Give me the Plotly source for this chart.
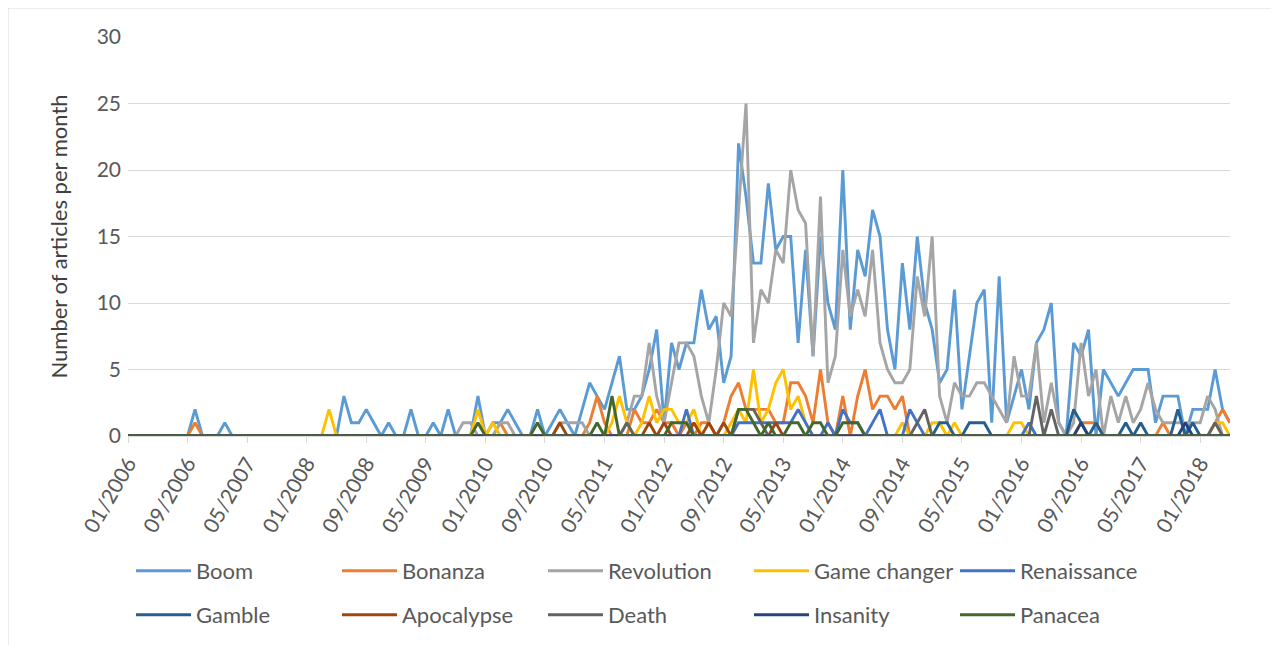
import plotly.graph_objects as go

# ---- categories (monthly, 01/2006 .. 05/2018) ----
months = []
for yr in range(2006, 2019):
    for mo in range(1, 13):
        if yr == 2018 and mo > 5:
            break
        months.append(f"{mo:02d}/{yr}")
tick_labels = months[::8]

# ---- series values (one row per year) ----
boom = [
    0,0,0,0,0,0,0,0,0,2,0,0,
    0,1,0,0,0,0,0,0,0,0,0,0,
    0,0,0,0,0,3,1,1,2,1,0,1,
    0,0,2,0,0,1,0,2,0,0,0,3,
    0,1,1,2,1,0,0,2,0,1,2,1,
    0,2,4,3,2,4,6,2,2,3,5,8,
    1,7,5,7,7,11,8,9,4,6,22,18,
    13,13,19,14,15,15,7,14,6,15,10,8,
    20,8,14,12,17,15,8,5,13,8,15,10,
    8,4,5,11,2,6,10,11,1,12,1,3,
    5,2,7,8,10,1,0,7,6,8,0,5,
    4,3,4,5,5,5,1,3,3,3,0,2,
    2,2,5,2,1]
bonanza = [
    0,0,0,0,0,0,0,0,0,1,0,0,
    0,0,0,0,0,0,0,0,0,0,0,0,
    0,0,0,0,0,0,0,0,0,0,0,0,
    0,0,0,0,0,0,0,0,0,0,0,0,
    0,0,1,0,0,0,0,0,0,0,0,0,
    0,0,1,3,1,0,0,0,2,1,1,2,
    1,1,0,1,0,1,1,0,1,3,4,2,
    2,2,2,1,1,4,4,3,1,5,1,0,
    3,0,3,5,2,3,3,2,3,0,0,0,
    0,0,0,0,0,0,0,0,0,0,0,0,
    0,0,0,0,0,0,0,0,1,1,1,0,
    0,0,0,0,0,0,0,1,0,0,0,0,
    0,0,1,2,1]
revolution = [
    0,0,0,0,0,0,0,0,0,0,0,0,
    0,0,0,0,0,0,0,0,0,0,0,0,
    0,0,0,0,0,0,0,0,0,0,0,0,
    0,0,0,0,0,0,0,0,0,1,1,0,
    0,0,1,1,0,0,0,0,0,0,1,1,
    1,1,0,0,0,0,0,1,3,3,7,3,
    1,4,7,7,6,3,1,5,10,9,17,25,
    7,11,10,14,13,20,17,16,6,18,4,6,
    14,9,11,9,14,7,5,4,4,5,12,9,
    15,3,1,4,3,3,4,4,3,2,1,6,
    3,3,7,1,4,1,0,1,7,3,5,0,
    3,1,3,1,2,4,2,1,1,1,1,1,
    1,3,2,0,0]
game_changer = [
    0,0,0,0,0,0,0,0,0,0,0,0,
    0,0,0,0,0,0,0,0,0,0,0,0,
    0,0,0,2,0,0,0,0,0,0,0,0,
    0,0,0,0,0,0,0,0,0,0,0,2,
    0,1,0,0,0,0,0,0,0,0,0,0,
    0,0,0,0,0,1,3,1,0,1,3,1,
    2,2,1,1,2,0,0,0,0,1,2,1,
    5,1,2,4,5,2,3,1,0,0,0,0,
    0,0,0,0,0,0,0,0,1,0,0,0,
    1,1,0,1,0,0,0,0,0,0,0,1,
    1,0,0,0,0,0,0,0,0,0,0,0,
    0,0,0,0,0,0,0,0,0,0,0,0,
    0,0,1,1,0]
renaissance = [
    0,0,0,0,0,0,0,0,0,0,0,0,
    0,0,0,0,0,0,0,0,0,0,0,0,
    0,0,0,0,0,0,0,0,0,0,0,0,
    0,0,0,0,0,0,0,0,0,0,0,0,
    0,0,0,0,0,0,0,0,0,0,0,0,
    0,0,0,0,0,0,0,0,0,0,0,0,
    0,0,0,2,0,0,0,0,0,0,1,1,
    1,1,1,1,1,1,2,1,0,0,1,0,
    2,1,1,0,1,2,0,0,0,2,1,0,
    0,0,0,0,0,0,0,0,0,0,0,0,
    0,1,0,0,0,0,0,0,0,0,0,0,
    0,0,0,0,0,0,0,0,0,0,0,0,
    0,0,0,0,0]
gamble = [
    0,0,0,0,0,0,0,0,0,0,0,0,
    0,0,0,0,0,0,0,0,0,0,0,0,
    0,0,0,0,0,0,0,0,0,0,0,0,
    0,0,0,0,0,0,0,0,0,0,0,0,
    0,0,0,0,0,0,0,0,0,0,0,0,
    0,0,0,0,0,0,0,0,0,0,0,0,
    0,0,0,0,0,0,0,0,0,0,0,0,
    0,0,0,0,0,0,0,0,0,0,0,0,
    0,0,0,0,0,0,0,0,0,0,0,0,
    0,1,1,0,0,1,1,1,0,0,0,0,
    0,0,0,0,0,0,0,2,1,0,1,0,
    0,0,1,0,1,0,0,0,0,2,0,1,
    0,0,0,0,0]
apocalypse = [
    0,0,0,0,0,0,0,0,0,0,0,0,
    0,0,0,0,0,0,0,0,0,0,0,0,
    0,0,0,0,0,0,0,0,0,0,0,0,
    0,0,0,0,0,0,0,0,0,0,0,0,
    0,0,0,0,0,0,0,0,0,0,1,0,
    0,0,0,0,0,0,0,0,0,0,1,0,
    1,0,0,0,1,0,1,0,1,0,0,0,
    0,0,0,1,0,0,0,0,0,0,0,0,
    0,0,0,0,0,0,0,0,0,0,0,0,
    0,0,0,0,0,0,0,0,0,0,0,0,
    0,0,0,0,0,0,0,0,0,0,0,0,
    0,0,0,0,0,0,0,0,0,0,0,0,
    0,0,0,0,0]
death = [
    0,0,0,0,0,0,0,0,0,0,0,0,
    0,0,0,0,0,0,0,0,0,0,0,0,
    0,0,0,0,0,0,0,0,0,0,0,0,
    0,0,0,0,0,0,0,0,0,0,0,0,
    0,0,0,0,0,0,0,0,0,0,0,0,
    0,0,0,0,0,0,0,1,0,0,0,0,
    0,0,0,0,0,0,0,0,0,0,2,2,
    2,1,0,0,0,0,0,0,0,0,0,0,
    0,0,0,0,0,0,0,0,0,0,1,2,
    0,0,0,0,0,0,0,0,0,0,0,0,
    0,0,3,0,2,0,0,0,0,0,0,0,
    0,0,0,0,0,0,0,0,0,0,0,0,
    0,0,1,0,0]
insanity = [
    0,0,0,0,0,0,0,0,0,0,0,0,
    0,0,0,0,0,0,0,0,0,0,0,0,
    0,0,0,0,0,0,0,0,0,0,0,0,
    0,0,0,0,0,0,0,0,0,0,0,0,
    0,0,0,0,0,0,0,0,0,0,0,0,
    0,0,0,0,0,0,0,0,0,0,0,0,
    0,0,0,0,0,0,0,0,0,0,0,0,
    0,0,0,0,0,0,0,0,0,0,0,0,
    0,0,0,0,0,0,0,0,0,0,0,0,
    0,0,0,0,0,0,0,0,0,0,0,0,
    0,0,0,0,0,0,0,0,1,0,0,0,
    0,0,0,0,0,0,0,0,0,0,1,0,
    0,0,0,0,0]
panacea = [
    0,0,0,0,0,0,0,0,0,0,0,0,
    0,0,0,0,0,0,0,0,0,0,0,0,
    0,0,0,0,0,0,0,0,0,0,0,0,
    0,0,0,0,0,0,0,0,0,0,0,1,
    0,0,0,0,0,0,0,1,0,0,0,0,
    0,0,0,1,0,3,0,0,0,0,0,0,
    0,1,1,1,0,0,0,0,0,0,2,2,
    1,0,1,0,0,1,1,0,1,1,0,0,
    1,1,1,0,0,0,0,0,0,0,0,0,
    0,0,0,0,0,0,0,0,0,0,0,0,
    0,0,0,0,0,0,0,0,0,0,0,0,
    0,0,0,0,0,0,0,0,0,0,0,0,
    0,0,0,0,0]

series_names = ["Boom", "Bonanza", "Revolution", "Game changer", "Renaissance",
                "Gamble", "Apocalypse", "Death", "Insanity", "Panacea"]
series_values = [boom, bonanza, revolution, game_changer, renaissance,
                 gamble, apocalypse, death, insanity, panacea]
series_colors = ["#5B9BD5", "#ED7D31", "#A5A5A5", "#FFC000", "#4472C4",
                 "#255E91", "#9E480E", "#636363", "#264478", "#43682B"]

FONT = "Lato"
TXT = "#595959"

fig = go.Figure()
for k, (nm, vals, col) in enumerate(zip(series_names, series_values, series_colors)):
    fig.add_trace(go.Scatter(
        x=months, y=vals, mode="lines", name=nm,
        line=dict(color=col, width=2.9),
        legend="legend" if k < 5 else "legend2",
    ))

# page is rendered with an 8px body offset; layout below is in figure px
OFF = 8
W, H = 1279, 645
L, T = 128 - OFF, 37 - OFF
R = W - (1230 - OFF)
B = H - (436 - OFF)
pw, ph = W - L - R, H - T - B

def px_x(page_px):
    return (page_px - OFF - L) / pw

def px_y(page_py):
    return (H - B - (page_py - OFF)) / ph

legend_common = dict(
    orientation="h", xanchor="left", yanchor="middle",
    entrywidth=136, entrywidthmode="pixels", itemwidth=55,
    font=dict(family=FONT, size=22, color=TXT),
    bgcolor="rgba(0,0,0,0)", borderwidth=0,
)

fig.update_layout(
    width=W, height=H, autosize=False,
    margin=dict(l=L, r=R, t=T, b=B, pad=0, autoexpand=False),
    paper_bgcolor="white", plot_bgcolor="white",
    font=dict(family=FONT, color=TXT),
    showlegend=True,
    legend=dict(x=px_x(131), y=px_y(571), **legend_common),
    legend2=dict(x=px_x(131), y=px_y(615), **legend_common),
    xaxis=dict(
        type="category", range=[0, len(months) - 1], automargin=False,
        tickmode="array", tickvals=tick_labels, ticktext=tick_labels,
        tickangle=-60, ticks="outside", ticklen=6, tickcolor="#D9D9D9",
        showline=True, linecolor="#D9D9D9", linewidth=1,
        showgrid=False, zeroline=False,
        tickfont=dict(family=FONT, size=21, color=TXT),
    ),
    yaxis=dict(
        range=[0, 30], dtick=5, tick0=0, automargin=False,
        showgrid=True, gridcolor="#D9D9D9", gridwidth=1,
        zeroline=False, showline=False, ticks="",
        ticklabelstandoff=6,
        tickfont=dict(family=FONT, size=21, color=TXT),
        title=dict(text="Number of articles per month", standoff=22,
                   font=dict(family=FONT, size=22, color="#404040")),
    ),
    shapes=[dict(type="rect", xref="paper", yref="paper",
                 x0=px_x(8), x1=px_x(1276), y0=px_y(660), y1=px_y(8),
                 line=dict(color="#D9D9D9", width=1), layer="below")],
)

fig.write_html("out.html")
